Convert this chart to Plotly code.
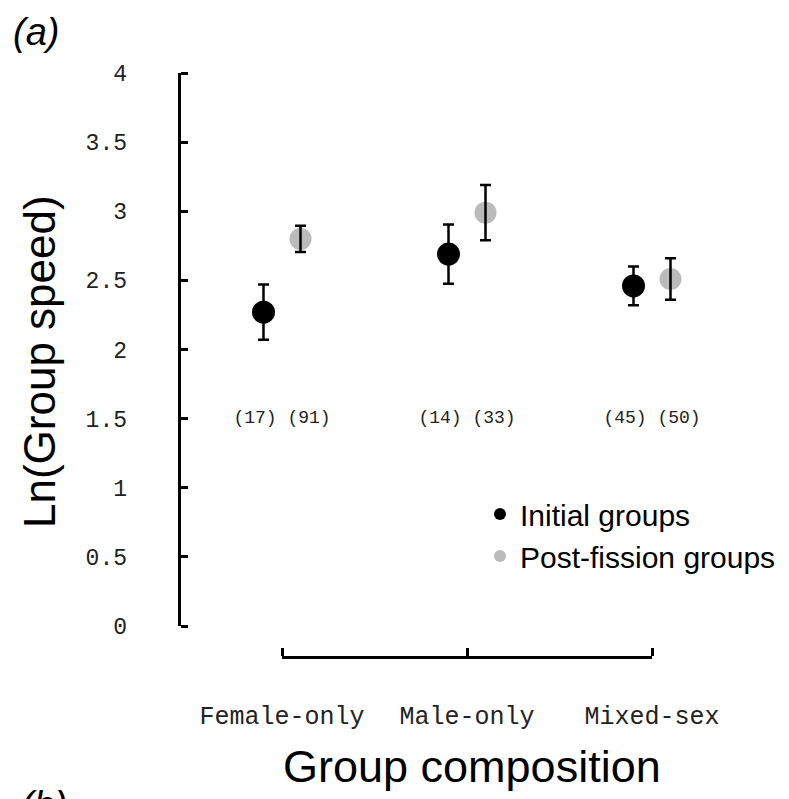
import plotly.graph_objects as go

# ---- data ----
categories = ["Female-only", "Male-only", "Mixed-sex"]
initial_mean = [2.27, 2.69, 2.46]
initial_err = [0.20, 0.215, 0.14]
post_mean = [2.80, 2.99, 2.51]
post_err = [0.095, 0.20, 0.15]
n_initial = [17, 14, 45]
n_post = [91, 33, 50]
y_ticks = [0, 0.5, 1, 1.5, 2, 2.5, 3, 3.5, 4]
n_label_level = 1.5

W, H = 789, 799
OFF = 0.1
idx = list(range(len(categories)))
x_init = [i - OFF for i in idx]
x_post = [i + OFF for i in idx]

MONO = "Liberation Mono, Courier New, monospace"
SANS = "Liberation Sans, Arial, sans-serif"

def px_x(p):
    return p / W

def px_y(p):
    return (H - p) / H

fig = go.Figure()

# markers
fig.add_trace(go.Scatter(x=x_init, y=initial_mean, mode="markers", name="Initial groups",
                         marker=dict(color="black", size=23), hoverinfo="skip"))
fig.add_trace(go.Scatter(x=x_post, y=post_mean, mode="markers", name="Post-fission groups",
                         marker=dict(color="#bbbbbb", size=22), hoverinfo="skip"))
# error bars drawn on top of markers
fig.add_trace(go.Scatter(x=x_init, y=initial_mean, mode="markers", showlegend=False,
                         marker=dict(color="rgba(0,0,0,0)", size=1), hoverinfo="skip",
                         error_y=dict(type="data", array=initial_err, color="black",
                                      thickness=2.5, width=5.5)))
fig.add_trace(go.Scatter(x=x_post, y=post_mean, mode="markers", showlegend=False,
                         marker=dict(color="rgba(0,0,0,0)", size=1), hoverinfo="skip",
                         error_y=dict(type="data", array=post_err, color="black",
                                      thickness=2.5, width=5.5)))
# sample sizes
fig.add_trace(go.Scatter(x=idx, y=[n_label_level] * len(idx), mode="text", showlegend=False,
                         text=[f"({a}) ({b})" for a, b in zip(n_initial, n_post)],
                         textfont=dict(family=MONO, size=18, color="#222"),
                         hoverinfo="skip", cliponaxis=False))
# invisible trace for the axis-line axes
fig.add_trace(go.Scatter(x=idx, y=[None] * len(idx), xaxis="x2", yaxis="y2",
                         mode="markers", showlegend=False, hoverinfo="skip"))

x0_px, x2_px = 282, 652
unit = (x2_px - x0_px) / 2
y_dom = [px_y(626), px_y(73)]
y_pos = px_x(179)
x_pos = px_y(657)

fig.update_layout(
    width=W, height=H,
    margin=dict(l=0, r=0, t=0, b=0, autoexpand=False),
    paper_bgcolor="white", plot_bgcolor="rgba(0,0,0,0)",
    showlegend=True,
    legend=dict(x=px_x(480), y=px_y(488), xanchor="left", yanchor="top",
                font=dict(family=SANS, size=30, color="black"),
                itemsizing="constant", bgcolor="rgba(0,0,0,0)", tracegroupgap=0),
    # data axis + category labels
    xaxis=dict(domain=[0, 1], range=[-x0_px / unit, (W - x0_px) / unit],
               anchor="free", position=x_pos, automargin=False,
               showline=False, ticks="", showgrid=False, zeroline=False,
               tickmode="array", tickvals=idx, ticktext=categories,
               tickfont=dict(family=MONO, size=25, color="#222"),
               ticklabelstandoff=41),
    # category axis line with upward ticks
    xaxis2=dict(domain=[px_x(x0_px), px_x(x2_px)], range=[0, 2],
                anchor="free", position=x_pos, side="top", automargin=False,
                showline=True, linecolor="black", linewidth=3,
                ticks="outside", ticklen=8, tickwidth=2.5, tickcolor="black",
                tickmode="array", tickvals=idx, showticklabels=False,
                showgrid=False, zeroline=False),
    # data axis + value labels
    yaxis=dict(domain=y_dom, range=[0, 4],
               anchor="free", position=y_pos, automargin=False,
               showline=False, ticks="", showgrid=False, zeroline=False,
               tickmode="array", tickvals=y_ticks,
               ticktext=[f"{v:g}" for v in y_ticks],
               tickfont=dict(family=MONO, size=23, color="#222"),
               ticklabelstandoff=52),
    # value axis line with rightward ticks
    yaxis2=dict(domain=y_dom, range=[0, 4],
                anchor="free", position=y_pos, side="right", automargin=False,
                showline=True, linecolor="black", linewidth=3,
                ticks="outside", ticklen=7, tickwidth=2.5, tickcolor="black",
                tickmode="array", tickvals=y_ticks, showticklabels=False,
                showgrid=False, zeroline=False),
    annotations=[
        dict(text="Group composition", x=px_x(472), y=px_y(766), xref="paper", yref="paper",
             xanchor="center", yanchor="middle", showarrow=False,
             font=dict(family=SANS, size=45, color="black")),
        dict(text="Ln(Group speed)", x=px_x(39), y=px_y(362), xref="paper", yref="paper",
             xanchor="center", yanchor="middle", showarrow=False, textangle=-90,
             font=dict(family=SANS, size=44, color="black")),
        dict(text="(a)", x=px_x(11), y=px_y(32), xref="paper", yref="paper",
             xanchor="left", yanchor="middle", showarrow=False,
             font=dict(family=SANS, size=38, color="black", style="italic")),
        dict(text="(b)", x=px_x(19), y=px_y(782), xref="paper", yref="paper",
             xanchor="left", yanchor="top", showarrow=False,
             font=dict(family=SANS, size=38, color="black", style="italic")),
    ],
)

fig.write_html("out.html")
